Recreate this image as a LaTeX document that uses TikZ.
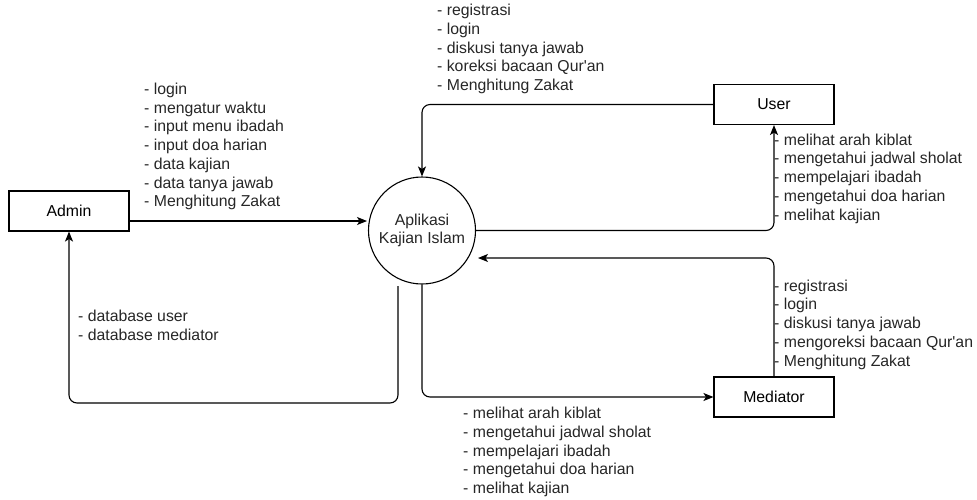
\documentclass[tikz,border=0pt]{standalone}
\usepackage{fontspec}
\setmainfont{Liberation Sans}[Ligatures=TeXOff]
\usetikzlibrary{arrows.meta}
\begin{document}
\begin{tikzpicture}[x=1pt,y=-1pt,
  every node/.style={font=\fontsize{15.8}{18.75}\selectfont},
  entity/.style={draw, line width=1.1pt, minimum width=120pt, minimum height=40pt, inner sep=0pt},
  proc/.style={draw, circle, line width=1.1pt, minimum size=107pt, inner sep=0pt, align=center, text=black!85},
  flow/.style={line width=1.1pt, rounded corners=8pt, -{Stealth[length=10pt,width=8pt,inset=2.5pt]}},
  lbl/.style={align=left, anchor=west, inner sep=0pt, text=black!85}]
\useasboundingbox (0,0) rectangle (977,499);
\node[entity] (admin) at (69,211) {Admin};
\node[entity] (user) at (774,104.5) {User};
\node[entity] (mediator) at (774,397) {Mediator};
\node[proc] (app) at (422,230.5) {Aplikasi\\Kajian Islam};

\coordinate (adminout) at (129,221);
\coordinate (appin) at (367,221);
\coordinate (medin) at (478,258);
\coordinate (appout) at (398,286);

% Admin -> App
\draw[flow] (adminout) -- (appin);
% User -> App
\draw[flow] (user.west) -| (app.north);
% App -> User
\draw[flow] (app.east) -| (user.south);
% Mediator -> App
\draw[flow] (mediator.north) |- (medin);
% App -> Mediator
\draw[flow] (app.south) |- (mediator.west);
% App -> Admin
\draw[flow] (appout) |- (69,403) -- (admin.south);

\node[lbl] (l1) at (437,49) {- registrasi\\- login\\- diskusi tanya jawab\\- koreksi bacaan Qur'an\\- Menghitung Zakat};
\node[lbl] (l2) at (144,146.5) {- login\\- mengatur waktu\\- input menu ibadah\\- input doa harian\\- data kajian\\- data tanya jawab\\- Menghitung Zakat};
\node[lbl] (l3) at (774,178.5) {- melihat arah kiblat\\- mengetahui jadwal sholat\\- mempelajari ibadah\\- mengetahui doa harian\\- melihat kajian};
\node[lbl] (l4) at (774,324.5) {- registrasi\\- login\\- diskusi tanya jawab\\- mengoreksi bacaan Qur'an\\- Menghitung Zakat};
\node[lbl] (l5) at (463,452) {- melihat arah kiblat\\- mengetahui jadwal sholat\\- mempelajari ibadah\\- mengetahui doa harian\\- melihat kajian};
\node[lbl] (l6) at (78,325) {- database user\\- database mediator};
\end{tikzpicture}
\end{document}
